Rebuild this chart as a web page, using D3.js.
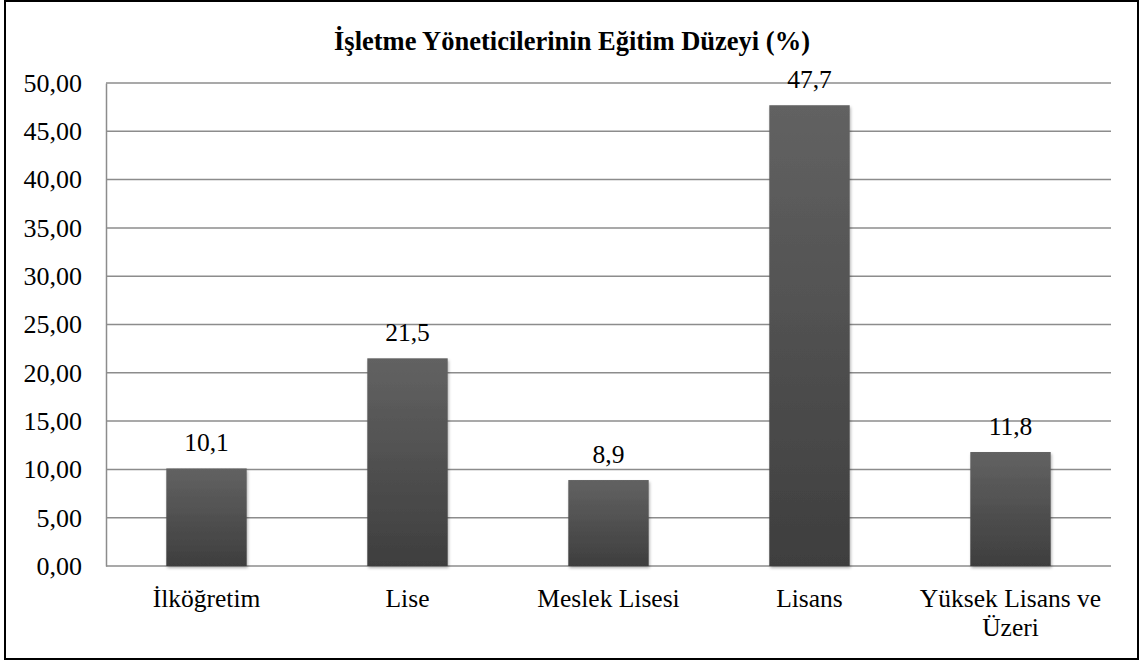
<!DOCTYPE html>
<html>
<head>
<meta charset="utf-8">
<script src="https://cdn.jsdelivr.net/npm/d3@7"></script>
<style>
  body { margin: 0; background: #fff; }
</style>
</head>
<body>
<div id="chart"></div>
<script>
const categories = ["İlköğretim", "Lise", "Meslek Lisesi", "Lisans", "Yüksek Lisans ve|Üzeri"];
const values = [10.1, 21.5, 8.9, 47.7, 11.8];
const yTicks = [0, 5, 10, 15, 20, 25, 30, 35, 40, 45, 50];
const title = "İşletme Yöneticilerinin Eğitim Düzeyi (%)";

const width = 1144, height = 664;
const margins = { top: 83, bottom: 98, left: 106, right: 33 };
const serif = "Liberation Serif";

const svg = d3.select("#chart").append("svg")
  .attr("width", width)
  .attr("height", height);

const defs = svg.append("defs");
const grad = defs.append("linearGradient")
  .attr("id", "barGrad")
  .attr("x1", 0).attr("y1", 0).attr("x2", 0).attr("y2", 1);
grad.append("stop").attr("offset", "0%").attr("stop-color", "#626262");
grad.append("stop").attr("offset", "100%").attr("stop-color", "#3e3e3e");

const shadow = defs.append("filter").attr("id", "shadow")
  .attr("x", "-10%").attr("y", "-10%").attr("width", "130%").attr("height", "130%");
shadow.append("feDropShadow")
  .attr("dx", 1).attr("dy", 2).attr("stdDeviation", 1.5)
  .attr("flood-color", "#000").attr("flood-opacity", 0.3);

// outer frame
svg.append("rect")
  .attr("x", 5).attr("y", 1)
  .attr("width", 1133).attr("height", 658)
  .attr("fill", "none")
  .attr("stroke", "#000")
  .attr("stroke-width", 2);

const xScale = d3.scaleBand()
  .domain(categories)
  .range([margins.left, width - margins.right])
  .paddingInner(0.6)
  .paddingOuter(0.3);

const yScale = d3.scaleLinear()
  .domain([0, 50])
  .range([height - margins.bottom, margins.top]);

// gridlines
svg.append("g")
  .selectAll("line")
  .data(yTicks)
  .join("line")
  .attr("x1", margins.left)
  .attr("x2", width - margins.right)
  .attr("y1", (d) => yScale(d))
  .attr("y2", (d) => yScale(d))
  .attr("stroke", "#8c8c8c")
  .attr("stroke-width", 1.5);

// y axis
const yAxis = d3.axisLeft(yScale)
  .tickValues(yTicks)
  .tickSize(0)
  .tickPadding(24)
  .tickFormat((d) => d3.format(".2f")(d).replace(".", ","));

svg.append("g")
  .attr("class", "axis y-axis")
  .attr("transform", `translate(${margins.left},0)`)
  .call(yAxis)
  .call((g) => g.select(".domain").attr("stroke", "#8c8c8c").attr("stroke-width", 1.5))
  .call((g) => g.attr("font-family", serif).attr("font-size", 26))
  .call((g) => g.selectAll("text").attr("fill", "#000"));

// bars
svg.append("g")
  .selectAll("rect")
  .data(values)
  .join("rect")
  .attr("x", (d, i) => xScale(categories[i]))
  .attr("y", (d) => yScale(d))
  .attr("width", xScale.bandwidth())
  .attr("height", (d) => yScale(0) - yScale(d))
  .attr("fill", "url(#barGrad)")
  .attr("filter", "url(#shadow)");

// value labels
svg.append("g")
  .attr("font-family", serif)
  .attr("font-size", 25.5)
  .selectAll("text")
  .data(values)
  .join("text")
  .attr("x", (d, i) => xScale(categories[i]) + xScale.bandwidth() / 2)
  .attr("y", (d) => yScale(d) - 17)
  .attr("text-anchor", "middle")
  .text((d) => String(d).replace(".", ","));

// category labels
const catG = svg.append("g")
  .attr("font-family", serif)
  .attr("font-size", 25.5)
  .selectAll("text")
  .data(categories)
  .join("text")
  .attr("x", (d) => xScale(d) + xScale.bandwidth() / 2)
  .attr("y", 607)
  .attr("text-anchor", "middle");

catG.each(function (d) {
  const lines = d.split("|");
  const t = d3.select(this);
  lines.forEach((l, i) => {
    t.append("tspan")
      .attr("x", t.attr("x"))
      .attr("dy", i === 0 ? 0 : 29)
      .text(l);
  });
});

// title
svg.append("text")
  .attr("x", 572)
  .attr("y", 50)
  .attr("text-anchor", "middle")
  .attr("font-family", serif)
  .attr("font-size", 26.5)
  .attr("font-weight", "bold")
  .text(title);
</script>
</body>
</html>
